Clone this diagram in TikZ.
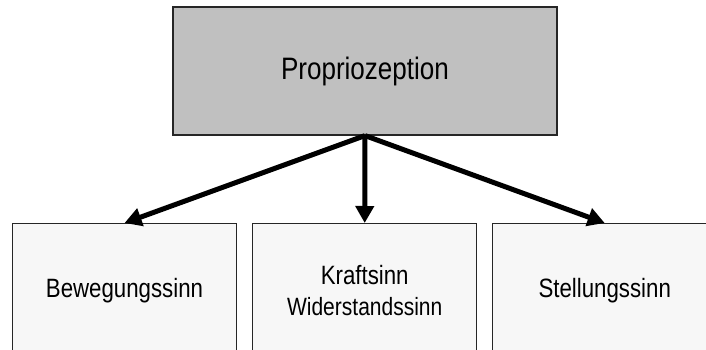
\documentclass[tikz,border=0pt]{standalone}
\usepackage{fontspec}
\setmainfont{Liberation Sans}[FakeStretch=0.84]
\usetikzlibrary{arrows.meta}
\definecolor{PGray}{HTML}{C0C0C0}
\definecolor{SGray}{HTML}{F7F7F7}
\tikzset{
    topblock/.style = {draw=black!85, fill=PGray, line width=1.2pt, rectangle,
        minimum width=384pt, minimum height=128pt, inner sep=0pt,
        font=\fontsize{31}{36}\selectfont},
    subblock/.style = {draw=black!85, fill=SGray, line width=1.2pt, rectangle,
        anchor=north, minimum width=224pt, minimum height=170pt, inner sep=0pt},
    sublabel/.style = {anchor=base, inner sep=0pt, font=\fontsize{26.5}{30}\selectfont},
    arrow/.style = {draw, line width=5pt, -{Triangle[length=17pt,width=18pt]}}
}
\begin{document}
\begin{tikzpicture}[x=1pt,y=-1pt]
                \useasboundingbox (0,0) rectangle (706,349);
                \clip (0,0) rectangle (706,349);
                \node[topblock] (prop) at (365,71) {Propriozeption};
                \node[subblock] (beweg) at (124.5,223) {};
                \node[subblock] (kraft) at (364.7,223) {};
                \node[subblock] (stell) at (604.7,223) {};
                \node[sublabel] (bewegtxt) at (124.5,297) {Bewegungssinn};
                \node[sublabel] (krafttxt) at (364.7,284) {Kraftsinn};
                \node[sublabel,font=\fontsize{25}{28}\selectfont] (widertxt) at (364.7,315) {Widerstandssinn};
                \node[sublabel] (stelltxt) at (604.7,297) {Stellungssinn};
                \draw [arrow] (prop.south) -- (beweg.north);
                \draw [arrow] (prop.south) -- (kraft.north);
                \draw [arrow] (prop.south) -- (stell.north);
\end{tikzpicture}
\end{document}
